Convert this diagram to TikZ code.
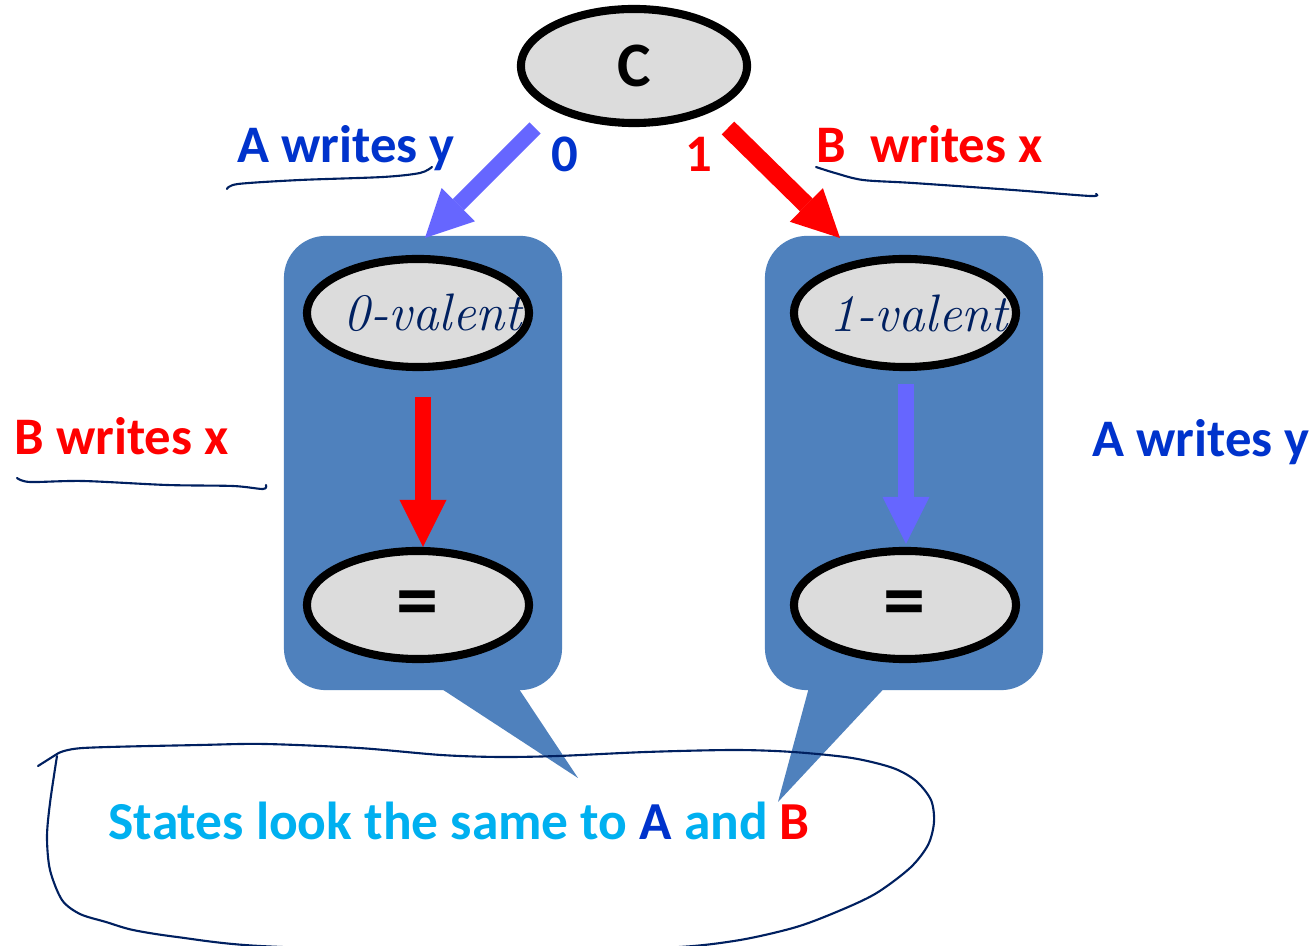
\documentclass[tikz,border=0pt]{standalone}
\usepackage{fontspec}
\usepackage{tikz}
\usetikzlibrary{arrows.meta,shapes.geometric}
\newfontfamily\calfont{Carlito}
\definecolor{boxblue}{RGB}{79,129,189}
\definecolor{stategray}{RGB}{220,220,220}
\definecolor{procA}{RGB}{0,51,204}
\definecolor{procB}{RGB}{255,0,0}
\definecolor{writeA}{RGB}{102,102,255}
\definecolor{ink}{RGB}{0,32,96}
\definecolor{sky}{RGB}{0,176,240}

\begin{document}
\begin{tikzpicture}[x=0.01cm,y=-0.01cm,
  state/.style={ellipse,draw=black,line width=2.3pt,fill=stategray,inner sep=0pt,
    minimum width=2.22cm,minimum height=1.08cm},
  valbox/.style={rectangle,fill=boxblue,rounded corners=0.42cm,inner sep=0pt,
    minimum width=2.78cm,minimum height=4.54cm},
  lbl/.style={font=\calfont\bfseries\fontsize{15pt}{18pt}\selectfont,
    anchor=base west,inner sep=0pt},
  hand/.style={ink,line width=0.6pt,line cap=round,line join=round},
  handtext/.style={font=\normalfont\itshape\fontsize{15pt}{18pt}\selectfont,text=ink},
  wArrow/.style={line width=#1,
    -{Triangle[length=13.4pt,width=13.4pt,line width=0pt]}},
  wArrow/.default=4.5pt]
  \useasboundingbox (0,0) rectangle (1314,946);
  \fill[white] (0,0) rectangle (1314,946);

  % the two valent branches, each a callout box
  \node[valbox] (box0) at (423,463) {};
  \node[valbox] (box1) at (904,463) {};
  \coordinate (tip0) at (578,778);
  \coordinate (tip1) at (778,802);
  \fill[boxblue] (428,680) -- (tip0) -- (513,680) -- cycle;
  \fill[boxblue] (811,680) -- (tip1) -- (892,680) -- cycle;

  % states
  \node[state,minimum width=2.26cm,minimum height=1.14cm,
    font=\calfont\bfseries\fontsize{18pt}{20pt}\selectfont] (C) at (634,66) {C};
  \node[state] (val0) at (418,313) {};
  \node[state] (val1) at (905,313) {};
  \node[handtext] (val0txt) at ([xshift=0.15cm]val0.center) {0-valent};
  \node[handtext] (val1txt) at ([xshift=0.14cm]val1.center) {1-valent};
  \node[state,font=\calfont\bfseries\fontsize{24pt}{26pt}\selectfont] (eq0) at (418,605) {};
  \node[state,font=\calfont\bfseries\fontsize{24pt}{26pt}\selectfont] (eq1) at (905,605) {};
  \node[font=\calfont\bfseries\fontsize{24pt}{26pt}\selectfont] (eq0txt)
    at ([yshift=-0.05cm]eq0.center) {=};
  \node[font=\calfont\bfseries\fontsize{24pt}{26pt}\selectfont] (eq1txt)
    at ([yshift=-0.05cm]eq1.center) {=};

  % first steps out of C
  \coordinate (out0) at (535,128);
  \coordinate (in0)  at (425,238);
  \coordinate (out1) at (728,128);
  \coordinate (in1)  at (840,238);
  \draw[wArrow,writeA] (out0) -- (in0);
  \draw[wArrow=5.1pt,procB] (out1) -- (in1);

  % second steps inside the boxes
  \draw[wArrow,procB,shorten <=0.26cm]
    ([xshift=0.05cm]val0.south) -- ([xshift=0.05cm]eq0.north);
  \draw[wArrow,writeA,shorten <=0.13cm,shorten >=0.03cm]
    ([xshift=0.01cm]val1.south) -- ([xshift=0.01cm]eq1.north);

  % labels
  \node[lbl,procA] (wy0) at (237,163) {A writes y};
  \node[lbl,procA] (bit0) at (551,172) {0};
  \node[lbl,procB] (bit1) at (685,172) {1};
  \node[lbl,procB] (wx1) at (816,163) {B\ \ writes x};
  \node[lbl,procB] (wx0) at (14,455) {B writes x};
  \node[lbl,procA] (wy1) at (1092,457) {A writes y};
  \node[lbl,sky,font=\calfont\bfseries\fontsize{15.2pt}{18pt}\selectfont]
    (same) at (108,840)
    {States look the same to \textcolor{procA}{A} and \textcolor{procB}{B}};

  % pen strokes
  \draw[hand] plot[smooth] coordinates
    {(227,189) (238,184) (300,180) (383,177) (420,173) (432,167)};
  \draw[hand] plot[smooth] coordinates
    {(816,167) (835,173) (863,180) (913,183) (1013,190) (1090,196) (1096,194)};
  \draw[hand] plot[smooth] coordinates
    {(17,478) (30,482) (83,481) (167,485) (233,486) (263,489) (266,485)};
  \draw[hand] (38,766) -- (57,754);
  \draw[hand] plot[smooth] coordinates
    {(57,754) (83,748) (200,745) (265,744) (359,748) (441,755) (499,757)
     (558,756) (646,752) (734,750) (793,752) (852,758) (893,768) (916,781)
     (931,800) (934,822) (928,845) (910,868) (875,894) (834,913) (793,928)
     (734,941) (660,948) (460,952) (260,946) (177,937) (133,930) (106,922)
     (80,914) (62,900) (50,870) (47,837) (50,803) (57,756)};
\end{tikzpicture}
\end{document}
